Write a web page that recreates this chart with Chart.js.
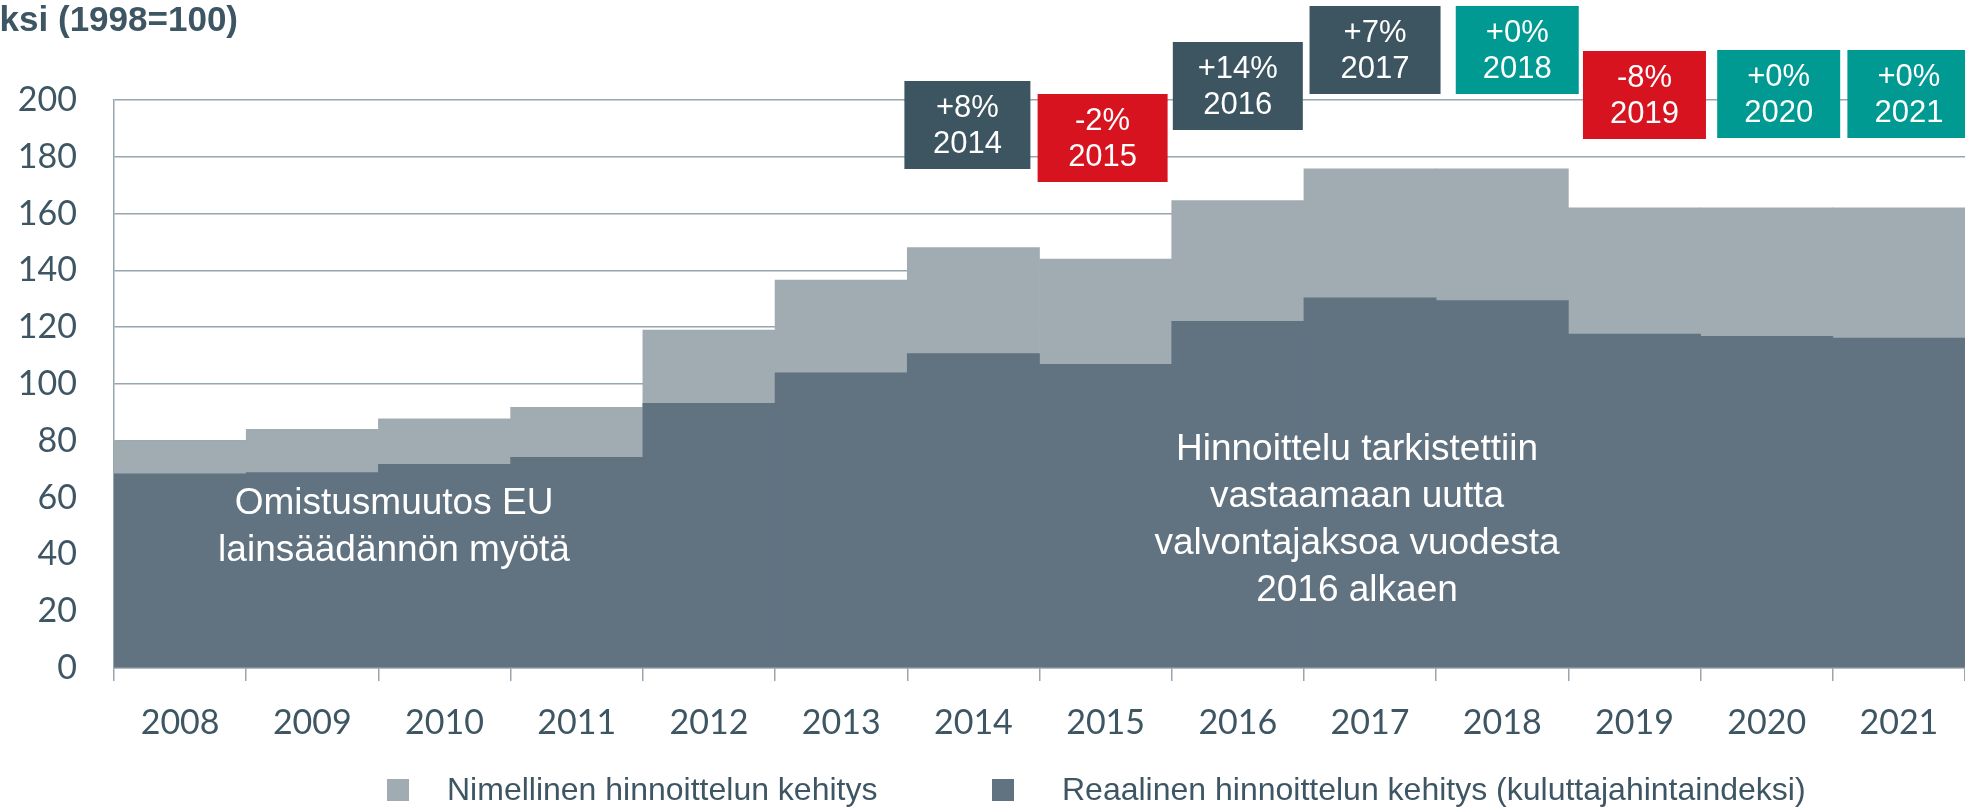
<!DOCTYPE html>
<html lang="fi">
<head>
<meta charset="utf-8">
<title>Hinnoittelun kehitys</title>
<script src="https://cdn.jsdelivr.net/npm/chart.js@4.4.1/dist/chart.umd.min.js"></script>
<style>
  html, body { margin: 0; padding: 0; background: #ffffff; }
  #wrap { position: relative; width: 1965px; height: 807px; }
</style>
</head>
<body>
<div id="wrap"><canvas id="chart"></canvas></div>
<script>
// Values (index, 1998 = 100)
const years = ["2008", "2009", "2010", "2011", "2012", "2013", "2014", "2015", "2016", "2017", "2018", "2019", "2020", "2021"];
const nominalIndex = [80, 84, 87.7, 91.8, 119, 136.6, 148, 144, 164.6, 175.8, 175.8, 162, 162, 162];
const realIndex = [68.4, 68.8, 71.7, 74.2, 93.2, 103.9, 110.7, 106.9, 122.1, 130.3, 129.4, 117.6, 116.8, 116.2];
const yTicks = [0, 20, 40, 60, 80, 100, 120, 140, 160, 180, 200];

const changeYears = ["2014", "2015", "2016", "2017", "2018", "2019", "2020", "2021"];
const changeText = ["+8%", "-2%", "+14%", "+7%", "+0%", "-8%", "+0%", "+0%"];

const seriesNames = ["Nimellinen hinnoittelun kehitys", "Reaalinen hinnoittelun kehitys (kuluttajahintaindeksi)"];
const axisTitle = "ksi (1998=100)";
const noteLeft = ["Omistusmuutos EU", "lainsäädännön myötä"];
const noteRight = ["Hinnoittelu tarkistettiin", "vastaamaan uutta", "valvontajaksoa vuodesta", "2016 alkaen"];

// ---- styling / layout (not data) ----
const C = {
  nominal: "#a1abb2",
  real: "#617381",
  grid: "#98a6af",
  text: "#3e5663",
  up: "#3d5560",
  down: "#d7131f",
  flat: "#009a93",
};
const TICK_FONT = "Lato, 'Open Sans', sans-serif";
const SANS = "'Liberation Sans', Arial, sans-serif";

// box placement relative to the year's column centre
const boxShiftX = [-6, -3, 0, 5, 15, 10, 12, 10];
const boxWidth = [126, 130, 130, 131, 123, 123, 123, 123];
const boxTop = [81, 94, 42, 6, 6, 51, 50, 50];
const BOX_H = 88;

function boxColor(t) {
  const v = parseFloat(t);
  if (v > 0) return C.up;
  if (v < 0) return C.down;
  return C.flat;
}

const annotations = {
  id: "annotations",
  afterDraw(chart) {
    const { ctx, scales } = chart;
    const x = scales.x;
    ctx.save();

    // change boxes
    changeYears.forEach((yr, i) => {
      const cx = x.getPixelForValue(years.indexOf(yr)) + boxShiftX[i];
      const w = boxWidth[i];
      const top = boxTop[i];
      ctx.fillStyle = boxColor(changeText[i]);
      ctx.fillRect(cx - w / 2, top, w, BOX_H);
      ctx.fillStyle = "#ffffff";
      ctx.font = "31px " + SANS;
      ctx.textAlign = "center";
      ctx.textBaseline = "middle";
      ctx.fillText(changeText[i], cx, top + 27);
      ctx.fillText(yr, cx, top + 63);
    });

    // notes inside the area
    ctx.fillStyle = "#ffffff";
    ctx.font = "37px " + SANS;
    ctx.textAlign = "center";
    ctx.textBaseline = "middle";
    noteLeft.forEach((s, i) => ctx.fillText(s, 394, 504 + i * 47));
    noteRight.forEach((s, i) => ctx.fillText(s, 1357, 450 + i * 47));

    // axis title (cut off at the left edge like the source)
    ctx.fillStyle = C.text;
    ctx.font = "bold 35px " + SANS;
    ctx.textAlign = "right";
    ctx.textBaseline = "alphabetic";
    ctx.fillText(axisTitle, 238, 31);

    // legend
    const items = [
      { label: seriesNames[0], color: C.nominal, bx: 387, tx: 447 },
      { label: seriesNames[1], color: C.real, bx: 992, tx: 1062 },
    ];
    ctx.font = "32px " + SANS;
    ctx.textAlign = "left";
    items.forEach(it => {
      ctx.fillStyle = it.color;
      ctx.fillRect(it.bx, 779, 22, 22);
      ctx.fillStyle = C.text;
      ctx.fillText(it.label, it.tx, 800);
    });
    ctx.restore();
  }
};

new Chart(document.getElementById("chart"), {
  type: "bar",
  data: {
    labels: years,
    datasets: [
      {
        label: seriesNames[0],
        data: nominalIndex,
        backgroundColor: C.nominal,
        order: 1,
      },
      {
        label: seriesNames[1],
        data: realIndex,
        backgroundColor: C.real,
        order: 0,
      },
    ],
  },
  options: {
    responsive: true,
    maintainAspectRatio: false,
    animation: false,
    layout: { padding: { top: 100, left: 0, right: 0, bottom: 0 } },
    datasets: {
      bar: {
        grouped: false,
        categoryPercentage: 1,
        barPercentage: 1,
        borderWidth: 0,
      },
    },
    scales: {
      x: {
        offset: true,
        afterFit(s) { s.height = 139; },
        grid: {
          offset: true,
          drawOnChartArea: false,
          drawTicks: true,
          tickLength: 13,
          color: C.grid,
          lineWidth: 1.5,
        },
        border: { display: true, color: C.grid, width: 1.5 },
        ticks: {
          color: C.text,
          font: { family: TICK_FONT, size: 34 },
          padding: 22,
          maxRotation: 0,
          autoSkip: false,
        },
      },
      y: {
        min: 0,
        max: 200,
        afterFit(s) { s.width = 114; },
        afterBuildTicks(s) { s.ticks = yTicks.map(v => ({ value: v })); },
        grid: { drawTicks: false, color: C.grid, lineWidth: 1.5 },
        border: { display: true, color: C.grid, width: 1.5 },
        ticks: {
          color: C.text,
          font: { family: TICK_FONT, size: 34 },
          padding: 37,
        },
      },
    },
    plugins: {
      legend: { display: false },
      tooltip: { enabled: false },
    },
  },
  plugins: [annotations],
});
</script>
</body>
</html>
